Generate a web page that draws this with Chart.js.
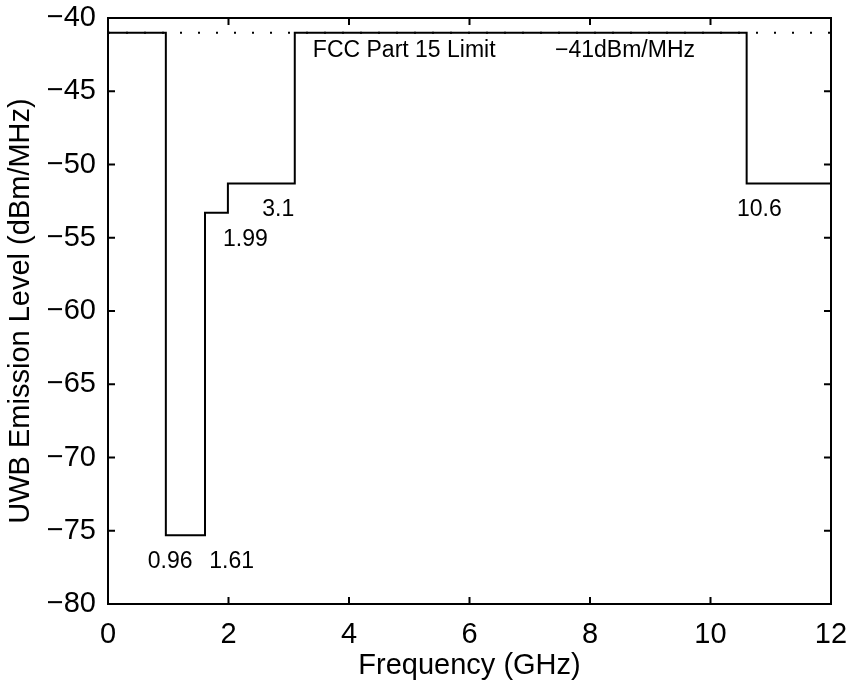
<!DOCTYPE html>
<html>
<head>
<meta charset="utf-8">
<script src="https://cdn.jsdelivr.net/npm/chart.js@4.4.0/dist/chart.umd.min.js"></script>
<style>
  html, body { margin: 0; padding: 0; background: #fff; }
  #wrap { width: 852px; height: 683px; }
</style>
</head>
<body>
<div id="wrap"><canvas id="mask"></canvas></div>
<script>
// band edges (GHz) and emission level of each band (dBm/MHz)
const bandEdges = [0, 0.96, 1.61, 1.99, 3.1, 10.6, 12];
const bandLevels = [-41, -75.3, -53.3, -51.3, -41, -51.3];
const limitLevel = -41;
const xTicks = [0, 2, 4, 6, 8, 10, 12];
const yTicks = [-80, -75, -70, -65, -60, -55, -50, -45, -40];

// text notes: [label, x (GHz), y (dBm/MHz)]
const notes = [
    ['0.96', 0.66, -77.1],
    ['1.61', 1.68, -77.1],
    ['1.99', 1.91, -55.1],
    ['3.1', 2.56, -53.1],
    ['10.6', 10.44, -53.1],
    ['FCC Part 15 Limit', 3.40, -42.2],
    ['\u221241dBm/MHz', 7.42, -42.2]
];

const FONT = "'Liberation Sans', Arial, sans-serif";

const maskPoints = bandLevels.map((lv, i) => ({ x: bandEdges[i], y: lv }));
maskPoints.push({ x: bandEdges[bandEdges.length - 1], y: bandLevels[bandLevels.length - 1] });

// box round the plot, inward ticks on all four sides, and the text notes
const boxPlugin = {
    id: 'box',
    afterDatasetsDraw(chart) {
        const { ctx, chartArea: a, scales: { x, y } } = chart;
        ctx.save();
        ctx.strokeStyle = '#000';
        ctx.lineWidth = 2;
        ctx.strokeRect(a.left, a.top, a.right - a.left, a.bottom - a.top);
        const len = 7;
        ctx.beginPath();
        xTicks.forEach(v => {
            const px = x.getPixelForValue(v);
            ctx.moveTo(px, a.bottom); ctx.lineTo(px, a.bottom - len);
            ctx.moveTo(px, a.top); ctx.lineTo(px, a.top + len);
        });
        yTicks.forEach(v => {
            const py = y.getPixelForValue(v);
            ctx.moveTo(a.left, py); ctx.lineTo(a.left + len, py);
            ctx.moveTo(a.right, py); ctx.lineTo(a.right - len, py);
        });
        ctx.stroke();

        ctx.fillStyle = '#000';
        ctx.font = '23px ' + FONT;
        ctx.textAlign = 'left';
        ctx.textBaseline = 'middle';
        notes.forEach(([t, nx, ny]) => {
            ctx.fillText(t, x.getPixelForValue(nx), y.getPixelForValue(ny));
        });
        ctx.restore();
    }
};

new Chart(document.getElementById('mask'), {
    type: 'line',
    data: {
        datasets: [
            {
                data: maskPoints,
                borderColor: '#000',
                borderWidth: 2,
                stepped: 'before',
                pointRadius: 0,
                fill: false
            },
            {
                data: [{ x: 0, y: limitLevel }, { x: 12, y: limitLevel }],
                borderColor: '#000',
                borderWidth: 2,
                borderDash: [2, 16],
                pointRadius: 0,
                fill: false
            }
        ]
    },
    options: {
        responsive: true,
        maintainAspectRatio: false,
        animation: false,
        layout: { padding: { top: 18, right: 21, left: 0, bottom: 0 } },
        plugins: {
            legend: { display: false },
            tooltip: { enabled: false }
        },
        scales: {
            x: {
                type: 'linear',
                min: 0,
                max: 12,
                afterBuildTicks: s => { s.ticks = xTicks.map(v => ({ value: v })); },
                afterFit: s => { s.height = 79; s.paddingLeft = 0; s.paddingRight = 0; },
                grid: { display: false, drawTicks: false },
                border: { display: false },
                ticks: {
                    color: '#000',
                    font: { family: FONT, size: 29 },
                    padding: 14
                },
                title: {
                    display: true,
                    text: 'Frequency (GHz)',
                    color: '#000',
                    font: { family: FONT, size: 29 },
                    padding: { top: 0, bottom: 0 }
                }
            },
            y: {
                type: 'linear',
                min: -80,
                max: -40,
                afterBuildTicks: s => { s.ticks = yTicks.map(v => ({ value: v })); },
                afterFit: s => { s.width = 108; s.paddingTop = 0; s.paddingBottom = 0; },
                grid: { display: false, drawTicks: false },
                border: { display: false },
                ticks: {
                    color: '#000',
                    font: { family: FONT, size: 29 },
                    padding: 12,
                    callback: v => String(v).replace('-', '\u2212')
                },
                title: {
                    display: true,
                    text: 'UWB Emission Level (dBm/MHz)',
                    color: '#000',
                    font: { family: FONT, size: 29 },
                    padding: { top: 4, bottom: 0 }
                }
            }
        }
    },
    plugins: [boxPlugin]
});
</script>
</body>
</html>
